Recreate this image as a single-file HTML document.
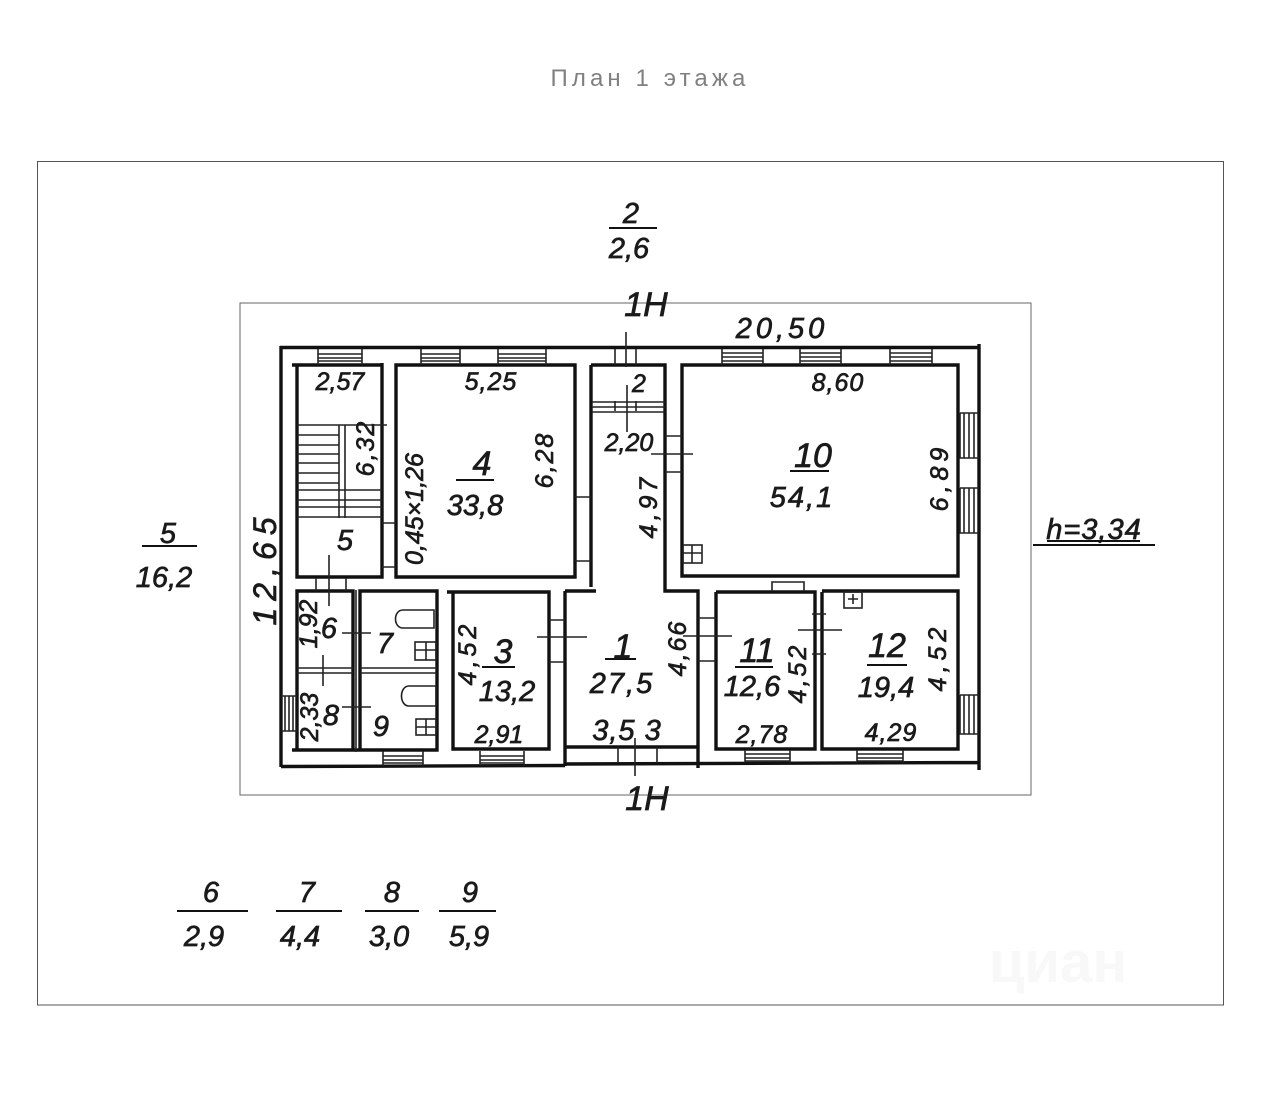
<!DOCTYPE html>
<html><head><meta charset="utf-8"><style>
html,body{margin:0;padding:0;background:#fff;width:1280px;height:1104px;overflow:hidden}
svg{display:block}
text{font-family:"Liberation Sans",sans-serif;font-style:italic;fill:#1a1a1a;text-anchor:middle;stroke:#1a1a1a;stroke-width:.7}
.t{font-style:normal;stroke:none;fill:#808080;font-size:24px;letter-spacing:4.1px}
.s{font-size:25px}.m{font-size:29px}.l{font-size:34px}
.w{stroke:#111;stroke-width:3.4;fill:none}
.n{stroke:#222;stroke-width:1.6;fill:none}
</style></head><body>
<svg width="1280" height="1104" viewBox="0 0 1280 1104" xmlns="http://www.w3.org/2000/svg">
<rect width="1280" height="1104" fill="#fff"/>
<text class="t" x="650" y="86">План 1 этажа</text>
<rect x="37.5" y="161.5" width="1186" height="843.5" fill="none" stroke="#555" stroke-width="1"/>
<rect x="240" y="303" width="791" height="492" fill="none" stroke="#666" stroke-width="1"/>
<text x="1058" y="982" style="font-style:normal;fill:#f8f8f8;stroke:none;font-size:58px;font-weight:bold">циан</text>

<!-- outer walls -->
<path class="w" d="M281 346V767M280 347.5H979M979 344V770M281 766.5L565 765.5M565 764L979 762.5"/>
<!-- stair room -->
<path class="w" d="M297 365V577H382V363M292 365H382"/>
<!-- room 4 -->
<path class="w" d="M396 365H575V577H396Z"/>
<!-- corridor -->
<path class="w" d="M591 365V587M591 365H665V591H698V768M565 591H596M565 591V766M565 747H698"/>
<path class="n" d="M592 402H665M592 412H665M592 407H665"/>
<!-- room 10 -->
<path class="w" d="M682 365H958V576H682Z"/>
<!-- 11, 12 -->
<path class="w" d="M716 592V749H815V592H716M822 592V749H958V591H822"/>
<!-- 3 -->
<path class="w" d="M453 592V749H549V592H447"/>
<!-- 6-9 -->
<path class="w" d="M297 750V591H353V750M360 750V591H437V750H292"/>
<path class="n" d="M297 668H353M297 673H353M360 668H437M360 673H437M356 590V752"/>

<!-- top windows -->
<g class="n">
<path d="M318 349V365M362 349V365M318 354H362M318 358H362M318 361H362"/>
<path d="M421 349V365M460 349V365M421 354H460M421 358H460M421 361H460"/>
<path d="M498 349V365M546 349V365M498 354H546M498 358H546M498 361H546"/>
<path d="M722 349V365M763 349V365M722 353H763M722 357H763M722 361H763"/>
<path d="M800 349V365M841 349V365M800 353H841M800 357H841M800 361H841"/>
<path d="M890 349V365M932 349V365M890 353H932M890 357H932M890 361H932"/>
<!-- right windows -->
<path d="M960 413V458H979M960 413H979M964 413V458M969 413V458M974 413V458"/>
<path d="M960 488V533H979M960 488H979M964 488V533M969 488V533M974 488V533"/>
<path d="M960 695V734H979M960 695H979M964 695V734M969 695V734M974 695V734"/>
<!-- left window -->
<path d="M281 696H297M281 731H297M285 696V731M289 696V731M293 696V731"/>
<!-- bottom windows -->
<path d="M383 751V766M423 751V766M383 756H423M383 760H423M383 763H423"/>
<path d="M480 751V766M524 751V766M480 756H524M480 760H524M480 763H524"/>
<path d="M745 750V763M790 750V763M745 754H790M745 758H790M745 761H790"/>
<path d="M857 750V763M903 750V763M857 754H903M857 758H903M857 761H903"/>
<!-- doors and ticks -->
<path d="M615 349V365M636 349V365M615 401V411M636 401V411"/>
<path d="M626 332V367M627 385V432"/>
<path d="M665 436H682M665 472H682M651 454H693"/>
<path d="M575 497H591M575 561H591"/>
<path d="M382 523H396M382 567H396"/>
<path d="M316 578V591M346 578V591M329 555V606"/>
<path d="M549 620H565M549 662H565M537 637H587"/>
<path d="M698 618H716M698 661H716M683 636H732"/>
<path d="M798 630H842M812 614H826M812 654H826"/>
<path d="M342 633H371M342 707H371M323 655V686"/>
<path d="M618 747V763M657 747V763M635 738V776"/>
<!-- stairs -->
<path d="M297 425H387M297 435H339M297 445H339M297 454H339M297 463H339M297 473H339M297 483H339M297 490H382M297 500H382M297 507H382M297 517H382"/>
<path d="M339 425V518M345 425V518"/>
<!-- fixtures -->
<path d="M434 610V628H403C393 628 393 610 403 610Z"/>
<path d="M436 686V706H409C399 706 399 686 409 686Z"/>
<rect x="415" y="642" width="21" height="18"/>
<path d="M426 642V660M415 650H436"/>
<rect x="416" y="719" width="20" height="16"/>
<path d="M426 719V735M416 727H436"/>
<rect x="683" y="545" width="19" height="18"/>
<path d="M692 545V563M683 553H702"/>
<rect x="844" y="592" width="18" height="16"/>
<path d="M853 594V604M848 599H858"/>
<path d="M772 591V582H804V591"/>
</g>
<!-- fraction bars -->
<g stroke="#111" stroke-width="2" fill="none">
<path d="M142 546H197M609 228H657M1033 545H1155M177 911H248M276 911H342M365 911H419M439 911H496"/>
<path d="M1047 541H1140"/>
<path d="M456 480H494M482 667H515M605 659H636M735 667H773M867 665H907M790 471H829"/>
</g>

<g>
<text class="m" x="168" y="543">5</text><text class="m" x="164" y="587">16,2</text>
<text class="m" x="631" y="223">2</text><text class="m" x="629" y="258">2,6</text>
<text class="l" x="646" y="316">1Н</text>
<text class="l" x="647" y="810">1Н</text>
<text class="m" x="782" y="338" style="letter-spacing:4px">20,50</text>
<text class="m" x="1094" y="539" style="letter-spacing:1px">h=3,34</text>
<text class="m" transform="translate(276 568) rotate(-90)" style="letter-spacing:7px;font-size:32px">12,65</text>

<text class="s" x="340" y="390">2,57</text>
<text class="s" x="491" y="390" style="letter-spacing:1px">5,25</text>
<text class="s" x="838" y="391" style="letter-spacing:1px">8,60</text>
<text class="s" x="629" y="451">2,20</text>
<text class="s" x="639" y="392">2</text>
<text class="s" transform="translate(374 448) rotate(-90)" style="letter-spacing:2px">6,32</text>
<text class="s" transform="translate(423 509) rotate(-90)">0,45×1,26</text>
<text class="s" transform="translate(553 460) rotate(-90)" style="letter-spacing:2px">6,28</text>
<text class="s" transform="translate(657 506) rotate(-90)" style="letter-spacing:4px">4,97</text>
<text class="s" transform="translate(948 477) rotate(-90)" style="letter-spacing:5px">6,89</text>
<text class="m" x="345" y="550">5</text>

<text class="l" x="482" y="475">4</text><text class="m" x="475" y="515">33,8</text>
<text class="l" x="813" y="467">10</text><text class="m" x="802" y="507" style="letter-spacing:2px">54,1</text>

<text class="m" x="329" y="638">6</text>
<text class="m" x="385" y="653">7</text>
<text class="m" x="331" y="725">8</text>
<text class="m" x="381" y="736">9</text>
<text class="s" transform="translate(317 624) rotate(-90)">1,92</text>
<text class="s" transform="translate(318 717) rotate(-90)">2,33</text>
<text class="s" transform="translate(476 653) rotate(-90)" style="letter-spacing:4px">4,52</text>
<text class="l" x="503" y="663">3</text><text class="m" x="507" y="701">13,2</text>
<text class="s" x="499" y="743">2,91</text>
<text class="l" x="623" y="658">1</text><text class="m" x="622" y="693" style="letter-spacing:2px">27,5</text>
<text class="m" x="627" y="740" style="letter-spacing:1px">3,5 3</text>
<text class="s" transform="translate(686 648) rotate(-90)" style="letter-spacing:2px">4,66</text>
<text class="l" x="757" y="662">11</text><text class="m" x="752" y="696">12,6</text>
<text class="s" transform="translate(806 673) rotate(-90)" style="letter-spacing:3px">4,52</text>
<text class="s" x="762" y="743" style="letter-spacing:1px">2,78</text>
<text class="l" x="887" y="657">12</text><text class="m" x="886" y="697">19,4</text>
<text class="s" transform="translate(946 657) rotate(-90)" style="letter-spacing:5px">4,52</text>
<text class="s" x="891" y="741" style="letter-spacing:1px">4,29</text>

<text class="m" x="211" y="902">6</text><text class="m" x="204" y="946">2,9</text>
<text class="m" x="307" y="902">7</text><text class="m" x="300" y="946">4,4</text>
<text class="m" x="392" y="902">8</text><text class="m" x="389" y="946">3,0</text>
<text class="m" x="470" y="902">9</text><text class="m" x="469" y="946">5,9</text>
</g>
</svg>
</body></html>
